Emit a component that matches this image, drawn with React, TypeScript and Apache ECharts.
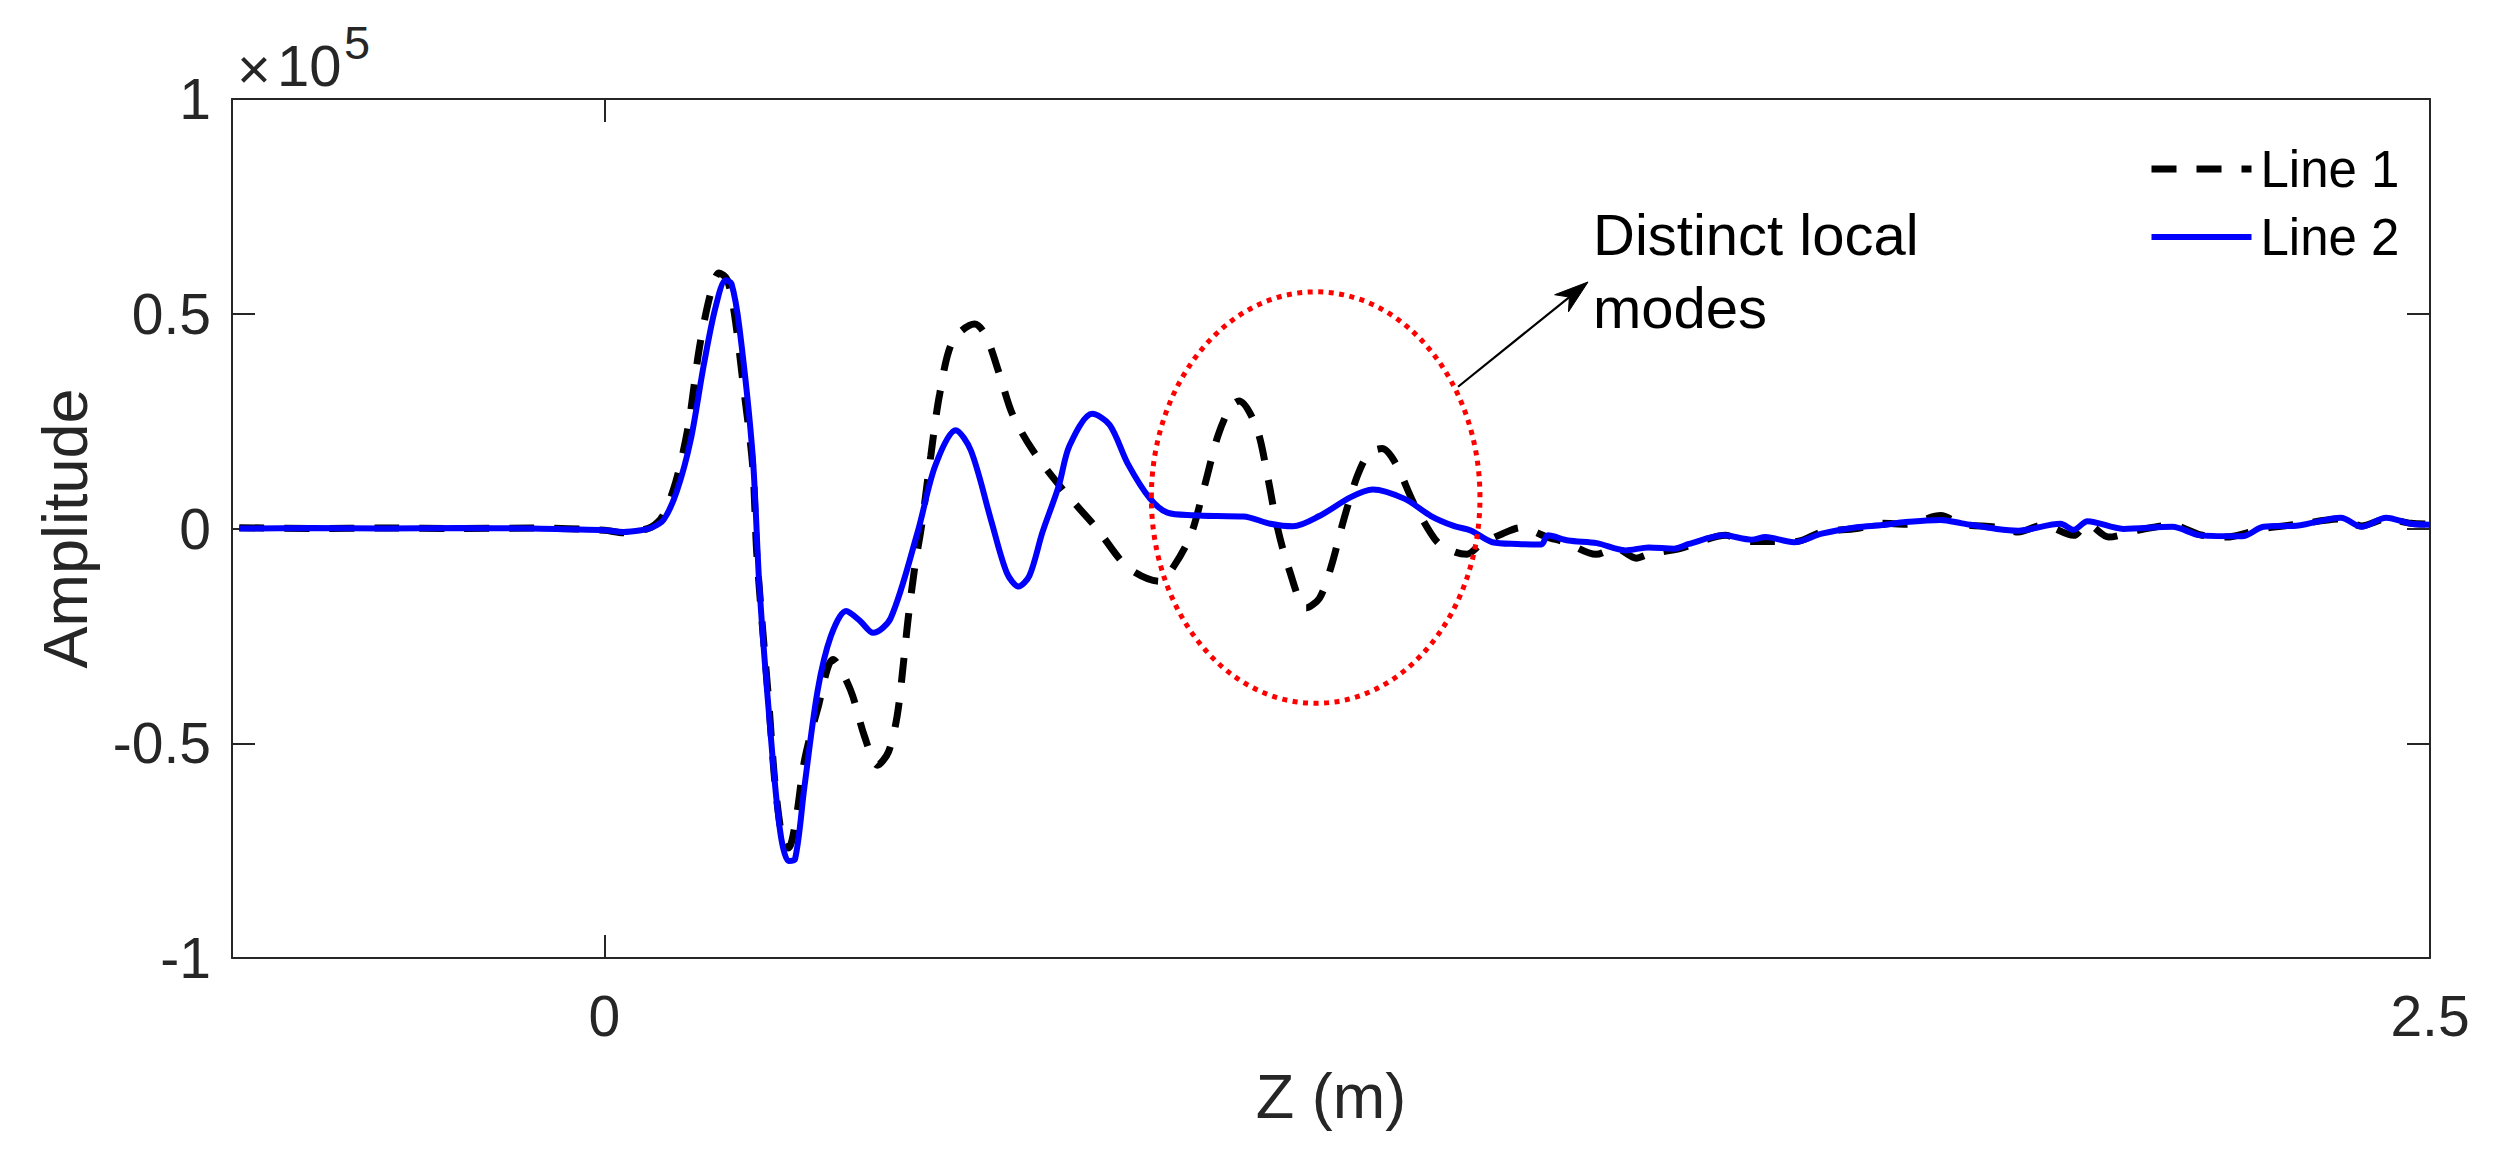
import React, { useEffect, useRef } from "react";
import * as echarts from "echarts";

// ---- Data (Z in metres, amplitude in units of 10^5) ----
const zLine1 = [
  -0.5, -0.4, -0.3, -0.2, -0.1, 0.0, 0.026, 0.05, 0.065, 0.08, 0.098, 0.115, 0.13, 0.145, 0.157, 0.168,
  0.178, 0.19, 0.203, 0.209, 0.225, 0.234, 0.245, 0.252, 0.262, 0.274, 0.292, 0.313, 0.337, 0.356, 0.374,
  0.389, 0.401, 0.41, 0.416, 0.425, 0.434, 0.447, 0.459, 0.477, 0.507, 0.522, 0.541, 0.559, 0.587, 0.63,
  0.673, 0.717, 0.76, 0.779, 0.803, 0.822, 0.84, 0.857, 0.869, 0.893, 0.909, 0.921, 0.937, 0.961, 0.979,
  0.995, 1.013, 1.031, 1.047, 1.065, 1.083, 1.108, 1.132, 1.144, 1.165, 1.181, 1.2, 1.23, 1.255, 1.291,
  1.316, 1.358, 1.385, 1.413, 1.43, 1.474, 1.536, 1.56, 1.597, 1.633, 1.667, 1.715, 1.75, 1.782, 1.83,
  1.859, 1.907, 1.936, 1.97, 2.012, 2.031, 2.06, 2.1, 2.147, 2.186, 2.22, 2.272, 2.32, 2.378, 2.406,
  2.44, 2.474, 2.5,
];
const ampLine1 = [
  0.002, 0.0, 0.001, 0.0, 0.001, -0.004, -0.01, -0.004, 0.004, 0.03, 0.11, 0.24, 0.42, 0.545, 0.595, 0.58,
  0.5, 0.336, 0.146, -0.068, -0.403, -0.6, -0.735, -0.744, -0.68, -0.54, -0.42, -0.305, -0.376, -0.483, -0.551,
  -0.52, -0.435, -0.305, -0.209, -0.09, 0.003, 0.17, 0.312, 0.437, 0.476, 0.45, 0.359, 0.265, 0.181, 0.086,
  0.003, -0.091, -0.123, -0.09, -0.015, 0.1, 0.215, 0.282, 0.297, 0.235, 0.114, 0.007, -0.092, -0.185, -0.163,
  -0.09, 0.024, 0.122, 0.175, 0.186, 0.153, 0.06, -0.012, -0.037, -0.055, -0.06, -0.037, -0.012, 0.002, -0.02,
  -0.032, -0.06, -0.046, -0.069, -0.06, -0.046, -0.016, -0.03, -0.03, -0.03, -0.008, 0.0, 0.012, 0.01, 0.03,
  0.01, 0.003, -0.008, 0.008, -0.016, 0.01, -0.02, -0.004, 0.008, -0.015, -0.02, 0.0, 0.01, 0.022, 0.006,
  0.022, 0.012, 0.01,
];
const zLine2 = [
  -0.5, -0.4, -0.3, -0.2, -0.1, -0.05, 0.0, 0.026, 0.05, 0.065, 0.081, 0.099, 0.118, 0.136, 0.152, 0.166,
  0.174, 0.185, 0.203, 0.212, 0.225, 0.24, 0.252, 0.261, 0.274, 0.292, 0.31, 0.331, 0.35, 0.368, 0.392,
  0.429, 0.453, 0.481, 0.502, 0.53, 0.551, 0.567, 0.582, 0.6, 0.622, 0.637, 0.668, 0.692, 0.717, 0.747,
  0.771, 0.808, 0.839, 0.875, 0.912, 0.943, 0.979, 1.022, 1.052, 1.096, 1.132, 1.163, 1.187, 1.216, 1.25,
  1.283, 1.292, 1.32, 1.359, 1.398, 1.43, 1.465, 1.485, 1.533, 1.571, 1.59, 1.629, 1.667, 1.715, 1.75,
  1.782, 1.83, 1.859, 1.907, 1.936, 1.994, 2.012, 2.031, 2.08, 2.147, 2.186, 2.243, 2.272, 2.32, 2.378,
  2.406, 2.44, 2.474, 2.5,
];
const ampLine2 = [
  0.0, 0.001, 0.0, 0.001, 0.0, -0.002, -0.004, -0.008, -0.004, 0.002, 0.02, 0.086, 0.205, 0.38, 0.514, 0.578,
  0.57, 0.466, 0.17, -0.128, -0.424, -0.697, -0.774, -0.77, -0.6, -0.377, -0.251, -0.192, -0.215, -0.243, -0.209,
  -0.008, 0.146, 0.229, 0.181, 0.016, -0.103, -0.135, -0.11, -0.008, 0.098, 0.193, 0.267, 0.241, 0.15, 0.07,
  0.037, 0.031, 0.029, 0.028, 0.011, 0.005, 0.029, 0.073, 0.091, 0.069, 0.029, 0.006, -0.005, -0.032, -0.036,
  -0.037, -0.016, -0.028, -0.034, -0.051, -0.044, -0.047, -0.036, -0.016, -0.026, -0.02, -0.032, -0.012, 0.003, 0.008,
  0.015, 0.02, 0.012, -0.001, -0.005, 0.011, -0.003, 0.017, -0.001, 0.004, -0.016, -0.018, 0.004, 0.007, 0.025,
  0.004, 0.025, 0.011, 0.009,
];

const seriesNames = ["Line 1", "Line 2"];
const xTickValues = [0, 2.5];
const xRange = [-0.51, 2.5];
const yRange = [-1, 1];
const yTickStep = 0.5;
const xAxisTitle = "Z (m)";
const yAxisTitle = "Amplitude";
const exponentTimes = "\u00d7";
const exponentBase = "10";
const exponentPower = "5";
const annotationText = "Distinct local\nmodes";
// annotation geometry in data units
const ellipseCenter = [0.974, 0.072];
const ellipseRadius = [0.225, 0.479];
const arrowStart = [1.169, 0.33];
const arrowEnd = [1.347, 0.574];

const FONT = "'Liberation Sans', Arial, Helvetica, sans-serif";
const AXIS_COLOR = "#262626";

export default function App() {
  const ref = useRef<HTMLDivElement | null>(null);

  useEffect(() => {
    if (!ref.current) return;
    const chart = echarts.init(ref.current, null, { renderer: "svg" });

    const line1 = zLine1.map((z, i) => [z, ampLine1[i]]);
    const line2 = zLine2.map((z, i) => [z, ampLine2[i]]);

    const axisLine = { show: true, onZero: false, lineStyle: { color: AXIS_COLOR, width: 2 } };
    const tickStyle = { color: AXIS_COLOR, width: 2 };

    const option: any = {
      animation: false,
      backgroundColor: "#ffffff",
      grid: { left: 232, right: 71, top: 99, bottom: 203, containLabel: false },
      legend: {
        orient: "vertical",
        left: 2143,
        top: 138,
        itemWidth: 100,
        itemHeight: 8,
        itemGap: 16,
        data: [
          { name: seriesNames[0], lineStyle: { width: 7 } },
          { name: seriesNames[1], lineStyle: { width: 6 } },
        ],
        itemStyle: { opacity: 0, color: "rgba(0,0,0,0)", borderWidth: 0 },
        textStyle: { fontSize: 51, lineHeight: 52, color: "#000000", fontFamily: FONT, padding: [0, 0, 0, 4] },
        selectedMode: false,
      },
      xAxis: [
        {
          type: "value",
          min: xRange[0],
          max: xRange[1],
          position: "bottom",
          axisLine,
          axisTick: { show: true, inside: true, length: 23, customValues: xTickValues, lineStyle: tickStyle },
          axisLabel: {
            show: true,
            customValues: xTickValues,
            showMinLabel: true,
            showMaxLabel: true,
            fontSize: 57,
            fontFamily: FONT,
            color: AXIS_COLOR,
            margin: 58,
            verticalAlign: "middle",
            formatter: (v: number) => String(v),
          },
          splitLine: { show: false },
          name: xAxisTitle,
          nameLocation: "middle",
          nameGap: 138,
          nameTextStyle: { fontSize: 63, fontFamily: FONT, color: AXIS_COLOR, verticalAlign: "middle" },
        },
        {
          type: "value",
          min: xRange[0],
          max: xRange[1],
          position: "top",
          axisLine,
          axisTick: { show: true, inside: true, length: 23, customValues: xTickValues, lineStyle: tickStyle },
          axisLabel: { show: false },
          splitLine: { show: false },
        },
      ],
      yAxis: [
        {
          type: "value",
          min: yRange[0],
          max: yRange[1],
          interval: yTickStep,
          position: "left",
          axisLine,
          axisTick: { show: true, inside: true, length: 23, lineStyle: tickStyle },
          axisLabel: {
            fontSize: 57,
            fontFamily: FONT,
            color: AXIS_COLOR,
            margin: 21,
            showMinLabel: true,
            showMaxLabel: true,
            formatter: (v: number) => String(v),
          },
          splitLine: { show: false },
          name: yAxisTitle,
          nameLocation: "middle",
          nameGap: 167,
          nameRotate: 90,
          nameTextStyle: { fontSize: 63, fontFamily: FONT, color: AXIS_COLOR, verticalAlign: "middle" },
        },
        {
          type: "value",
          min: yRange[0],
          max: yRange[1],
          interval: yTickStep,
          position: "right",
          axisLine,
          axisTick: { show: true, inside: true, length: 23, lineStyle: tickStyle },
          axisLabel: { show: false },
          splitLine: { show: false },
        },
      ],
      series: [
        {
          name: seriesNames[0],
          type: "line",
          data: line1,
          xAxisIndex: 0,
          yAxisIndex: 0,
          symbol: "none",
          smooth: 0.3,
          lineStyle: { color: "#000000", width: 7, type: [25, 20] },
          itemStyle: { color: "#000000" },
          z: 2,
        },
        {
          name: seriesNames[1],
          type: "line",
          data: line2,
          xAxisIndex: 0,
          yAxisIndex: 0,
          symbol: "none",
          smooth: 0.3,
          lineStyle: { color: "#0000ff", width: 6, type: "solid" },
          itemStyle: { color: "#0000ff" },
          z: 3,
        },
      ],
    };

    chart.setOption(option);

    const toPx = (p: number[]) => chart.convertToPixel({ xAxisIndex: 0, yAxisIndex: 0 }, p) as number[];
    const c = toPx(ellipseCenter);
    const e = toPx([ellipseCenter[0] + ellipseRadius[0], ellipseCenter[1] + ellipseRadius[1]]);
    const a0 = toPx(arrowStart);
    const a1 = toPx(arrowEnd);
    const dx = a1[0] - a0[0];
    const dy = a1[1] - a0[1];
    const len = Math.hypot(dx, dy);
    const ux = dx / len;
    const uy = dy / len;
    const nx = -uy;
    const ny = ux;
    const headL = 34;
    const headW = 11;
    const notch = 24;
    const tip = a1;
    const left = [tip[0] - ux * headL + nx * headW, tip[1] - uy * headL + ny * headW];
    const right = [tip[0] - ux * headL - nx * headW, tip[1] - uy * headL - ny * headW];
    const back = [tip[0] - ux * notch, tip[1] - uy * notch];

    chart.setOption({
      graphic: [
        {
          type: "ellipse",
          silent: true,
          z: 10,
          shape: { cx: c[0], cy: c[1], rx: e[0] - c[0], ry: c[1] - e[1] },
          style: { fill: "none", stroke: "#ff0000", lineWidth: 5, lineDash: [5, 5.5] },
        },
        {
          type: "line",
          silent: true,
          z: 10,
          shape: { x1: a0[0], y1: a0[1], x2: back[0], y2: back[1] },
          style: { stroke: "#000000", lineWidth: 2.2 },
        },
        {
          type: "polygon",
          silent: true,
          z: 10,
          shape: { points: [tip, left, back, right] },
          style: { fill: "#000000", stroke: "#000000", lineWidth: 1 },
        },
        {
          type: "text",
          silent: true,
          z: 10,
          x: 1593,
          y: 198,
          style: {
            text: annotationText,
            font: `58px ${FONT}`,
            fill: "#000000",
            lineHeight: 73,
            align: "left",
            verticalAlign: "top",
          },
        },
        {
          type: "text",
          silent: true,
          z: 10,
          x: 237,
          y: 68,
          style: {
            text: exponentTimes,
            font: `58px ${FONT}`,
            fill: AXIS_COLOR,
            align: "left",
            verticalAlign: "middle",
          },
        },
        {
          type: "text",
          silent: true,
          z: 10,
          x: 277,
          y: 65,
          style: {
            text: exponentBase,
            font: `58px ${FONT}`,
            fill: AXIS_COLOR,
            align: "left",
            verticalAlign: "middle",
          },
        },
        {
          type: "text",
          silent: true,
          z: 10,
          x: 344,
          y: 42,
          style: {
            text: exponentPower,
            font: `47px ${FONT}`,
            fill: AXIS_COLOR,
            align: "left",
            verticalAlign: "middle",
          },
        },
      ],
    });

    return () => {
      chart.dispose();
    };
  }, []);

  return (
    <div
      ref={ref}
      style={{ position: "absolute", left: 0, top: 0, width: 2501, height: 1161, background: "#ffffff" }}
    />
  );
}
